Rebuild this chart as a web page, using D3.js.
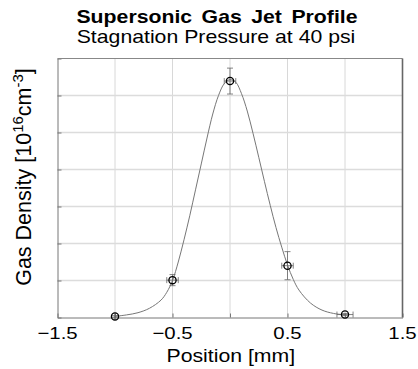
<!DOCTYPE html>
<html>
<head>
<meta charset="utf-8">
<script src="https://cdn.jsdelivr.net/npm/d3@7"></script>
<style>
  body { margin: 0; background: #fff; }
  svg { display: block; font-family: "Liberation Sans", Arial, sans-serif; }
</style>
</head>
<body>
<div id="chart"></div>
<script>
// measured points (position mm, density, errors)
var POS = [-1.0, -0.5, 0.0, 0.5, 1.0];
var DENS = [0.03, 1.01, 6.39, 1.40, 0.08];
var POS_ERR = [0.0, 0.05, 0.05, 0.05, 0.07];
var DENS_ERR = [0.02, 0.15, 0.35, 0.38, 0.03];

// fitted profile
var FIT_X = [-1.0, -0.9, -0.8, -0.7, -0.6, -0.55, -0.5, -0.45, -0.4, -0.35, -0.3, -0.25, -0.2, -0.15, -0.1, -0.05,
             0.0, 0.05, 0.1, 0.15, 0.2, 0.25, 0.3, 0.35, 0.4, 0.45, 0.5, 0.55, 0.6, 0.7, 0.8, 0.9, 1.0];
var FIT_Y = [0.03, 0.07, 0.13, 0.25, 0.47, 0.68, 1.0, 1.5, 2.1, 2.75, 3.45, 4.15, 4.85, 5.5, 6.0, 6.32,
             6.43, 6.36, 6.05, 5.58, 4.98, 4.33, 3.67, 3.03, 2.43, 1.9, 1.42, 1.03, 0.74, 0.39, 0.2, 0.11, 0.07];

var X_TICKS = [-1.5, -1.0, -0.5, 0.0, 0.5, 1.0, 1.5];
var X_LABELS = [-1.5, -0.5, 0.5, 1.5];
var Y_TICKS = [0, 1, 2, 3, 4, 5, 6, 7];

var W = 418, H = 369;
var MARGIN = {top: 58.5, right: 15.5, bottom: 51.5, left: 57.5},
    WIDTH = W - MARGIN.left - MARGIN.right,
    HEIGHT = H - MARGIN.top - MARGIN.bottom;
var SX = 1.2; // horizontal text in the picture is stretched sideways

var svg = d3.select("#chart").append("svg")
  .attr("width", W).attr("height", H);

svg.append("text")
  .attr("transform", "translate(217,22.7) scale(" + SX + ",1)")
  .attr("text-anchor", "middle")
  .style("font-size", "17.7px").style("font-weight", "bold").style("word-spacing", "3px")
  .text("Supersonic Gas Jet Profile");

svg.append("text")
  .attr("transform", "translate(216,42.7) scale(" + SX + ",1)")
  .attr("text-anchor", "middle")
  .style("font-size", "17.7px")
  .text("Stagnation Pressure at 40 psi");

var g = svg.append("g")
  .attr("transform", "translate(" + MARGIN.left + "," + MARGIN.top + ")");

var x = d3.scaleLinear().domain([-1.5, 1.5]).range([0, WIDTH]);
var y = d3.scaleLinear().domain([0, 7]).range([HEIGHT, 0]);

// grid
g.selectAll(".vgrid").data(X_TICKS.slice(1, -1)).enter().append("line")
  .attr("x1", d => x(d)).attr("x2", d => x(d))
  .attr("y1", 0).attr("y2", HEIGHT)
  .attr("stroke", "#d8d8d8").attr("stroke-width", 1);
g.selectAll(".hgrid").data(Y_TICKS.slice(1, -1)).enter().append("line")
  .attr("x1", 0).attr("x2", WIDTH)
  .attr("y1", d => y(d)).attr("y2", d => y(d))
  .attr("stroke", "#dcdcdc").attr("stroke-width", 1.3);

// axes (ticks inside)
var xAxis = d3.axisBottom(x).tickValues(X_TICKS).tickSizeInner(-4).tickSizeOuter(0).tickFormat("");
var gx = g.append("g").attr("transform", "translate(0," + HEIGHT + ")").call(xAxis);

var yAxis = d3.axisLeft(y).tickValues(Y_TICKS).tickSizeInner(-4).tickSizeOuter(0).tickFormat("");
var gy = g.append("g").call(yAxis);
[gx, gy].forEach(function(a) {
  a.select(".domain").attr("stroke", "#777");
  a.selectAll(".tick line").attr("stroke", "#777");
});

// tick labels
g.selectAll(".xlab").data(X_LABELS).enter().append("text")
  .attr("transform", d => "translate(" + x(d) + "," + (HEIGHT + 21.5) + ") scale(" + SX + ",1)")
  .attr("text-anchor", "middle").style("font-size", "17px")
  .text(d => d3.format(".1f")(d));

g.append("line").attr("x1", 0).attr("x2", WIDTH).attr("y1", 0).attr("y2", 0)
  .attr("stroke", "#888");
g.append("line").attr("x1", WIDTH).attr("x2", WIDTH).attr("y1", 0).attr("y2", HEIGHT)
  .attr("stroke", "#666").attr("stroke-width", 1.6);

// fit curve
var fit = FIT_X.map((v, i) => ({x: v, y: FIT_Y[i]}));
var line = d3.line().x(d => x(d.x)).y(d => y(d.y)).curve(d3.curveCatmullRom);
g.append("path").datum(fit)
  .attr("d", line).attr("fill", "none")
  .attr("stroke", "#777").attr("stroke-width", 1);

// error bars
var pts = POS.map((v, i) => ({x: v, y: DENS[i], ex: POS_ERR[i], ey: DENS_ERR[i]}));
var eb = g.selectAll(".eb").data(pts).enter().append("g")
  .attr("stroke", "#666").attr("stroke-width", 0.8);
var CAP = 3;
eb.append("line")
  .attr("x1", d => x(d.x)).attr("x2", d => x(d.x))
  .attr("y1", d => y(d.y - d.ey)).attr("y2", d => y(d.y + d.ey));
eb.append("line")
  .attr("x1", d => x(d.x) - CAP).attr("x2", d => x(d.x) + CAP)
  .attr("y1", d => y(d.y + d.ey)).attr("y2", d => y(d.y + d.ey));
eb.append("line")
  .attr("x1", d => x(d.x) - CAP).attr("x2", d => x(d.x) + CAP)
  .attr("y1", d => y(d.y - d.ey)).attr("y2", d => y(d.y - d.ey));
eb.append("line")
  .attr("x1", d => x(d.x - d.ex)).attr("x2", d => x(d.x + d.ex))
  .attr("y1", d => y(d.y)).attr("y2", d => y(d.y));
eb.append("line")
  .attr("x1", d => x(d.x - d.ex)).attr("x2", d => x(d.x - d.ex))
  .attr("y1", d => y(d.y) - CAP).attr("y2", d => y(d.y) + CAP);
eb.append("line")
  .attr("x1", d => x(d.x + d.ex)).attr("x2", d => x(d.x + d.ex))
  .attr("y1", d => y(d.y) - CAP).attr("y2", d => y(d.y) + CAP);

g.selectAll(".pt").data(pts).enter().append("circle")
  .attr("cx", d => x(d.x)).attr("cy", d => y(d.y)).attr("r", 3.6)
  .attr("fill", "none").attr("stroke", "#000").attr("stroke-width", 1.3);

// axis titles
svg.append("text")
  .attr("transform", "translate(230.8,362.3) scale(" + SX + ",1)")
  .attr("text-anchor", "middle").style("font-size", "17.7px")
  .text("Position [mm]");

var yl = svg.append("text")
  .attr("transform", "translate(31,177) rotate(-90)")
  .attr("text-anchor", "middle").style("font-size", "21.5px");
yl.append("tspan").text("Gas Density [10");
yl.append("tspan").attr("dy", -8).style("font-size", "15px").text("16");
yl.append("tspan").attr("dy", 8).text("cm");
yl.append("tspan").attr("dy", -8).style("font-size", "15px").text("-3");
yl.append("tspan").attr("dy", 8).text("]");
</script>
</body>
</html>
